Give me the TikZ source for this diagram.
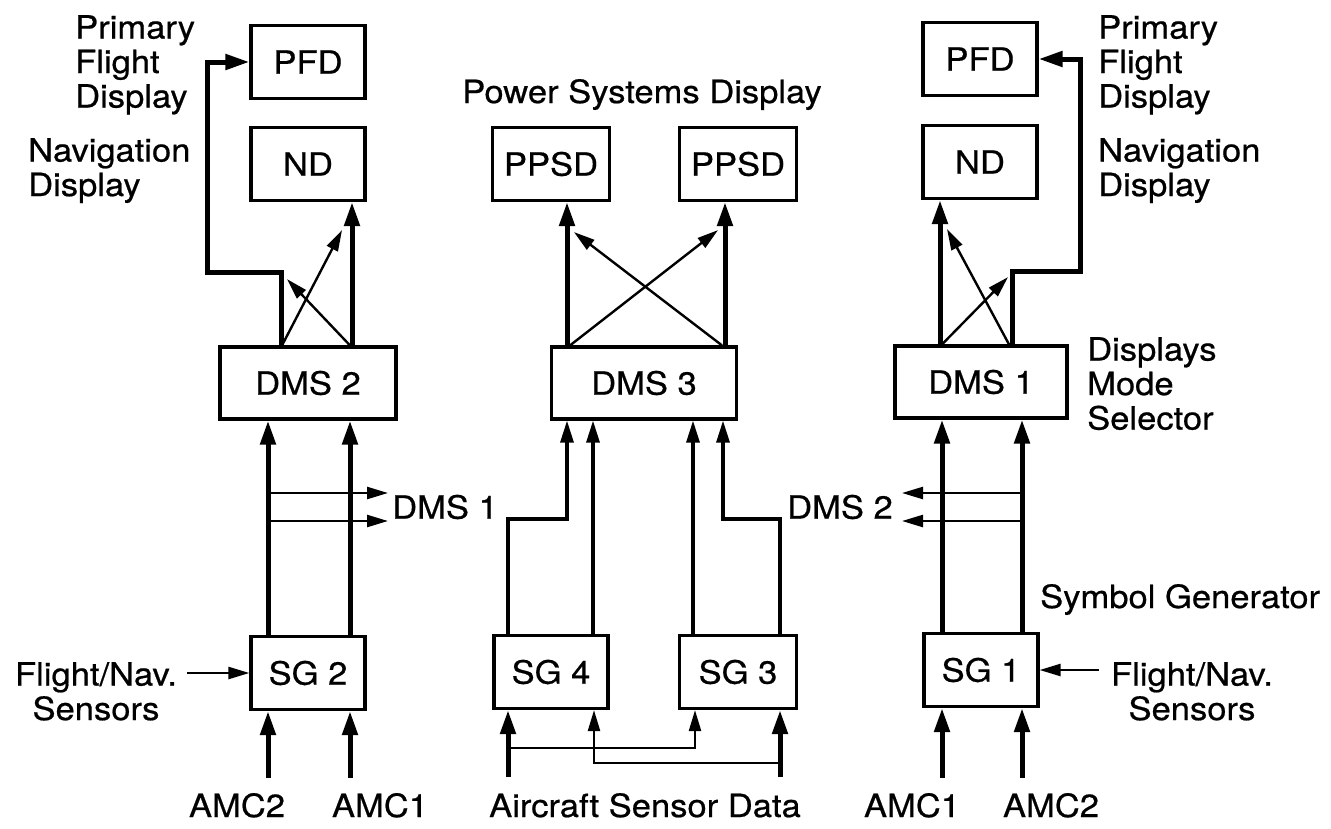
\documentclass[tikz,border=0pt]{standalone}
\usepackage{fontspec}
\setmainfont{TeX Gyre Heros}[FakeStretch=1.08,FakeBold=0.6]
\usetikzlibrary{arrows.meta}

\begin{document}
\begin{tikzpicture}[x=1pt,y=-1pt,
  font=\fontsize{32}{34.5}\selectfont,
  box/.style={draw,line width=3.2pt,inner sep=0pt,minimum width=114pt,minimum height=73pt},
  wide/.style={box,minimum width=176pt,minimum height=72pt},
  lbl/.style={inner sep=0pt},
  thk/.style={line width=5pt,-{Triangle[length=24pt,width=15pt]}},
  med/.style={line width=3.2pt,-{Triangle[length=22pt,width=13pt]}},
  thn/.style={line width=2.4pt,-{Triangle[length=21pt,width=12pt]}}]
  \useasboundingbox (0,0) rectangle (1331,828);

  % left column
  \node[box] (pfdL) at (308,62) {PFD};
  \node[box] (ndL) at (308,164) {ND};
  \node[wide] (dmsL) at (308,383) {DMS 2};
  \node[box] (sgL) at (308,673) {SG 2};
  \node[lbl,align=left,anchor=north west] (pfdTxtL) at (75,15) {Primary\\Flight\\Display};
  \node[lbl,align=left,anchor=north west] (ndTxtL) at (28,138) {Navigation\\Display};

  \draw[thk] ([xshift=-27pt]dmsL.north) -- ++(0,-73) -- ++(-74,0) |- (pfdL.west);
  \draw[thk] ([xshift=44pt]dmsL.north) -- ([xshift=44pt]ndL.south);
  \draw[thn] ([xshift=-26pt]dmsL.north) -- ([xshift=34pt,yshift=-28pt]ndL.south);
  \draw[thn] ([xshift=42pt]dmsL.north) -- ([xshift=-21pt,yshift=-77pt]ndL.south);

  \draw[thk] ([xshift=-40pt]sgL.north) -- ([xshift=-40pt]dmsL.south);
  \draw[thk] ([xshift=42pt]sgL.north) -- ([xshift=42pt]dmsL.south);
  \coordinate (tapL) at (268,507);
  \node[lbl,anchor=west] (toL) at (392,507) {DMS 1};
  \draw[thn] ([yshift=14pt]tapL) -- ([xshift=-4pt,yshift=14pt]toL.west);
  \draw[thn] ([yshift=-14pt]tapL) -- ([xshift=-4pt,yshift=-14pt]toL.west);

  \node[lbl,align=center,anchor=north] (fnL) at (96,662) {Flight/Nav.\\Sensors};
  \draw[thn] ([xshift=10pt]sgL.west -| fnL.east) -- (sgL.west);
  \node[lbl,anchor=base] (amcA) at (237,817) {AMC2};
  \node[lbl,anchor=base] (amcB) at (380,817) {AMC1};
  \draw[thk] ([xshift=-40pt,yshift=-67pt]sgL.south) -- ([xshift=-40pt]sgL.south);
  \draw[thk] ([xshift=42pt,yshift=-67pt]sgL.south) -- ([xshift=42pt]sgL.south);

  % middle column
  \node[lbl,anchor=base] (psd) at (642,103) {Power Systems Display};
  \node[box,minimum width=117pt] (ppsdA) at (551,164) {PPSD};
  \node[box,minimum width=117pt] (ppsdB) at (738,164) {PPSD};
  \node[wide,minimum width=185pt] (dmsM) at (644,383) {DMS 3};
  \node[box] (sgA) at (551,672) {SG 4};
  \node[box,minimum width=117pt] (sgB) at (738,672) {SG 3};

  \draw[thk] ([xshift=-77pt]dmsM.north) -- ([xshift=-77pt]dmsM.north |- ppsdA.south);
  \draw[thk] ([xshift=81pt]dmsM.north) -- ([xshift=81pt]dmsM.north |- ppsdB.south);
  \draw[thn] ([xshift=-74pt]dmsM.north) -- ([xshift=-20pt,yshift=-28pt]ppsdB.south);
  \draw[thn] ([xshift=78pt]dmsM.north) -- ([xshift=23pt,yshift=-30pt]ppsdA.south);

  \draw[med] ([xshift=-43pt]sgA.north) -- ++(0,-115) -| ([xshift=-77pt]dmsM.south);
  \draw[med] ([xshift=42pt]sgA.north) -- ([xshift=42pt]sgA.north |- dmsM.south);
  \draw[med] ([xshift=-45pt]sgB.north) -- ([xshift=-45pt]sgB.north |- dmsM.south);
  \draw[med] ([xshift=42pt]sgB.north) -- ++(0,-115) -| ([xshift=79pt]dmsM.south);

  \coordinate (asdA) at (508,777);
  \coordinate (asdB) at (780,777);
  \draw[thk] (asdA) -- (asdA |- sgA.south);
  \draw[thk] (asdB) -- (asdB |- sgB.south);
  \draw[thn] ([yshift=29pt]asdA) -| ([xshift=-43pt]sgB.south);
  \draw[thn] ([yshift=14pt]asdB) -| ([xshift=43pt]sgA.south);
  \node[lbl,anchor=base] (asd) at (645,817) {Aircraft Sensor Data};

  % right column
  \node[box] (pfdR) at (980,59) {PFD};
  \node[box] (ndR) at (980,162) {ND};
  \node[wide,minimum width=172pt] (dmsR) at (981,382) {DMS 1};
  \node[box] (sgR) at (981,670) {SG 1};
  \node[lbl,align=left,anchor=north west] (pfdTxtR) at (1098,15) {Primary\\Flight\\Display};
  \node[lbl,align=left,anchor=north west] (ndTxtR) at (1098,138) {Navigation\\Display};
  \node[lbl,align=left,anchor=north west] (dmsTxt) at (1087,337) {Displays\\Mode\\Selector};

  \draw[thk] ([xshift=31pt]dmsR.north) -- ++(0,-73) -- ++(68,0) |- (pfdR.east);
  \draw[thk] ([xshift=-41pt]dmsR.north) -- ([xshift=-41pt]dmsR.north |- ndR.south);
  \draw[thn] ([xshift=-39pt]dmsR.north) -- ([xshift=28pt,yshift=-77pt]ndR.south);
  \draw[thn] ([xshift=28pt]dmsR.north) -- ([xshift=-33pt,yshift=-29pt]ndR.south);

  \draw[thk] ([xshift=-39pt]sgR.north) -- ([xshift=-39pt]sgR.north |- dmsR.south);
  \draw[thk] ([xshift=41pt]sgR.north) -- ([xshift=41pt]sgR.north |- dmsR.south);
  \coordinate (tapR) at (1022,507);
  \node[lbl,anchor=east] (toR) at (893,507) {DMS 2};
  \draw[thn] ([yshift=14pt]tapR) -- ([xshift=9pt,yshift=14pt]toR.east);
  \draw[thn] ([yshift=-14pt]tapR) -- ([xshift=9pt,yshift=-14pt]toR.east);
  \node[lbl,anchor=base west] (symGen) at (1040,608) {Symbol Generator};

  \node[lbl,align=center,anchor=north] (fnR) at (1192,662) {Flight/Nav.\\Sensors};
  \draw[thn] ([xshift=-12pt]sgR.east -| fnR.west) -- (sgR.east);
  \node[lbl,anchor=base] (amcC) at (912,817) {AMC1};
  \node[lbl,anchor=base] (amcD) at (1051,817) {AMC2};
  \draw[thk] ([xshift=-39pt,yshift=-70pt]sgR.south) -- ([xshift=-39pt]sgR.south);
  \draw[thk] ([xshift=41pt,yshift=-70pt]sgR.south) -- ([xshift=41pt]sgR.south);
\end{tikzpicture}
\end{document}
